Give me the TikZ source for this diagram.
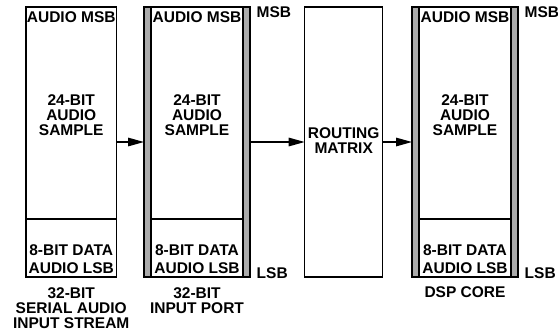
\documentclass[tikz,border=0pt]{standalone}
\usepackage{fontspec}
\setmainfont{Liberation Sans}
\usetikzlibrary{positioning,arrows.meta}

\begin{document}
\begin{tikzpicture}[
  x=1bp, y=1bp,
  font=\fontsize{15.5bp}{15bp}\selectfont\bfseries,
  blk/.style={draw, line width=1.4bp, fill=white, outer sep=0pt, inner sep=0pt, minimum height=270bp},
  rail/.style={blk, fill=black!33, minimum width=106bp},
  word/.style={inner sep=0pt, align=center},
  arr/.style={-{Triangle[length=16bp, width=8.5bp]}, line width=1.4bp}]
\useasboundingbox (0,0) rectangle (558,-330);
\node[blk, minimum width=90.5bp] (stream) at (71.25,-142) {};
\node[rail, right=27.5bp of stream] (portrail) {};
\node[blk, minimum width=92bp] (port) at (portrail) {};
\node[blk, minimum width=78bp, right=54.7bp of portrail] (matrix) {};
\node[rail, right=29.3bp of matrix] (corerail) {};
\node[blk, minimum width=92bp] (core) at (corerail) {};
% fields of each 32-bit word
\foreach \reg in {stream, port, core} {
  \draw[line width=1.4bp] ([yshift=58bp]\reg.south west) -- ([yshift=58bp]\reg.south east);
  \node[word, anchor=base] (\reg-msb) at ([yshift=-15.7bp]\reg.north) {AUDIO MSB};
  \node[word] (\reg-sample) at ([yshift=-108bp]\reg.north) {24-BIT\\AUDIO\\SAMPLE};
  \node[word, anchor=south] (\reg-lsb) at ([yshift=3bp]\reg.south) {8-BIT DATA\\[3bp]AUDIO LSB};
}
\node[word] (matrix-text) at ([yshift=1.5bp]matrix) {ROUTING\\MATRIX};
\foreach \reg in {portrail, corerail} {
  \node[word, anchor=base west] (\reg-top) at ([xshift=6.5bp, yshift=-10.3bp]\reg.north east) {MSB};
  \node[word, anchor=base west] (\reg-bot) at ([xshift=6.5bp, yshift=-1bp]\reg.south east) {LSB};
}
\node[word, anchor=north] (stream-cap) at ([yshift=-10bp]stream.south) {32-BIT\\SERIAL AUDIO\\INPUT STREAM};
\node[word, anchor=north] (port-cap) at ([yshift=-10bp]portrail.south) {32-BIT\\INPUT PORT};
\node[word, anchor=north] (core-cap) at ([yshift=-9bp]corerail.south) {DSP CORE};
\draw[arr] (stream) -- (portrail);
\draw[arr] (portrail) -- (matrix);
\draw[arr] (matrix) -- (corerail);
\end{tikzpicture}
\end{document}
